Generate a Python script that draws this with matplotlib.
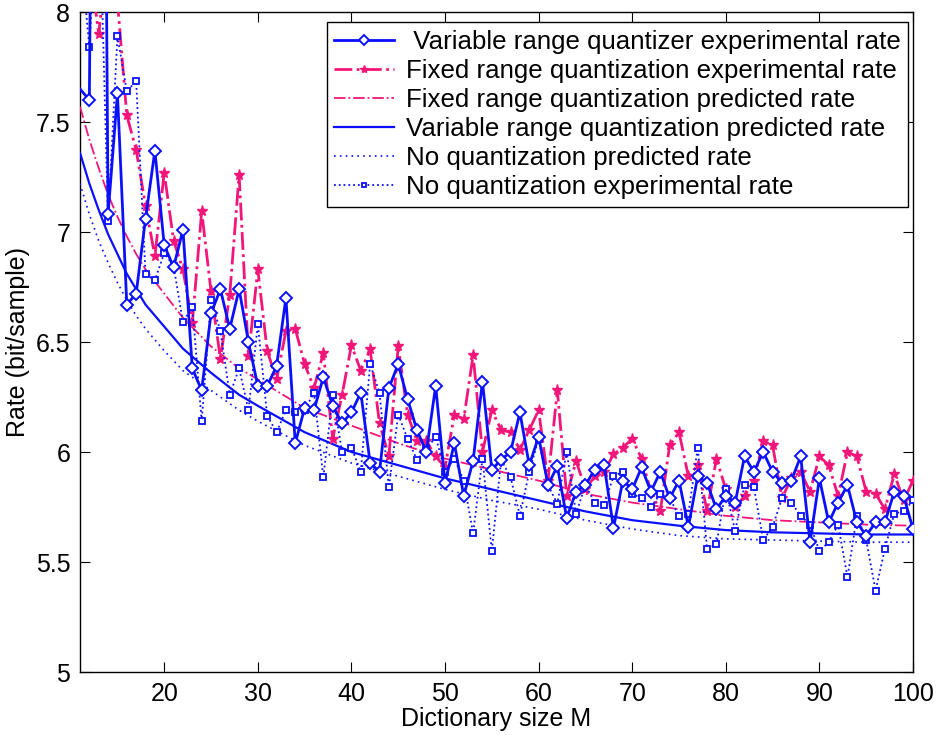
import matplotlib
matplotlib.use("Agg")
import matplotlib.pyplot as plt

# ---------------- data ----------------
M = list(range(11, 101))

var_exp = [7.65, 7.60, 13.0, 7.08, 7.63, 6.67, 6.72, 7.06, 7.37, 6.94,
           6.84, 7.01, 6.38, 6.28, 6.63, 6.74, 6.56, 6.74, 6.50, 6.30,
           6.30, 6.39, 6.70, 6.04, 6.20, 6.19, 6.34, 6.21, 6.13, 6.18,
           6.27, 5.95, 5.91, 6.29, 6.40, 6.24, 6.10, 6.00, 6.30, 5.86,
           6.04, 5.80, 5.96, 6.32, 5.92, 5.965, 6.00, 6.18, 5.94, 6.07,
           5.85, 5.935, 5.70, 5.82, 5.85, 5.92, 5.94, 5.655, 5.87, 5.83,
           5.93, 5.82, 5.91, 5.79, 5.87, 5.66, 5.89, 5.86, 5.74, 5.80,
           5.77, 5.98, 5.91, 6.00, 5.91, 5.86, 5.87, 5.98, 5.59, 5.88,
           5.68, 5.77, 5.85, 5.68, 5.62, 5.68, 5.68, 5.82, 5.80, 5.65]

fix_exp = [8.40, 8.23, 7.90, 8.30, 8.05, 7.53, 7.374, 7.12, 6.89, 7.27,
           6.96, 6.83, 6.586, 7.094, 6.73, 6.424, 6.715, 7.26, 6.435, 6.83,
           6.46, 6.33, 6.55, 6.56, 6.40, 6.29, 6.45, 6.06, 6.26, 6.485,
           6.37, 6.466, 6.13, 5.98, 6.48, 6.17, 6.05, 6.05, 5.98, 5.93,
           6.17, 6.15, 6.44, 6.00, 6.19, 6.10, 6.09, 6.01, 6.10, 6.19,
           5.87, 6.28, 5.80, 5.96, 5.83, 5.89, 5.91, 5.99, 6.02, 6.06,
           5.97, 5.82, 5.73, 6.03, 6.09, 5.89, 5.94, 5.73, 5.97, 5.83,
           5.75, 5.80, 5.87, 6.05, 6.03, 5.79, 5.88, 5.91, 5.82, 5.98,
           5.94, 5.80, 6.00, 5.98, 5.82, 5.81, 5.74, 5.90, 5.78, 5.87]

noq_exp = [8.30, 7.84, 8.63, 7.05, 7.89, 7.64, 7.685, 6.81, 6.78, 6.905,
           6.845, 6.59, 6.66, 6.14, 6.69, 6.55, 6.26, 6.38, 6.19, 6.58,
           6.165, 6.09, 6.19, 6.18, 6.19, 6.27, 5.885, 6.26, 6.00, 6.02,
           5.91, 6.40, 6.27, 5.84, 6.17, 6.06, 5.965, 6.01, 6.07, 5.91,
           5.97, 5.87, 5.63, 5.97, 5.55, 5.965, 5.885, 5.71, 5.91, 6.06,
           5.85, 5.765, 6.00, 5.72, 5.85, 5.77, 5.76, 5.89, 5.91, 5.81,
           5.79, 5.75, 5.81, 5.79, 5.71, 5.72, 6.02, 5.56, 5.58, 5.83,
           5.64, 5.85, 5.84, 5.60, 5.66, 5.79, 5.77, 5.71, 5.67, 5.55,
           5.59, 5.67, 5.43, 5.71, 5.60, 5.37, 5.56, 5.72, 5.73, 5.78]

pred_M = [11, 12, 13, 14, 15, 16, 17, 18, 20, 22, 25, 28, 30, 35, 40, 45,
          50, 55, 60, 65, 70, 75, 80, 85, 90, 95, 100]
fix_pred = [7.57, 7.42, 7.29, 7.17, 7.07, 6.98, 6.90, 6.83, 6.72, 6.61, 6.48,
            6.38, 6.33, 6.20, 6.12, 6.04, 5.97, 5.92, 5.87, 5.81, 5.77, 5.74,
            5.71, 5.69, 5.68, 5.67, 5.665]
var_pred = [7.36, 7.22, 7.10, 6.99, 6.90, 6.81, 6.74, 6.67, 6.57, 6.47, 6.36,
            6.26, 6.21, 6.09, 6.00, 5.94, 5.88, 5.83, 5.78, 5.73, 5.69, 5.665,
            5.645, 5.635, 5.63, 5.625, 5.625]
noq_pred = [7.22, 7.08, 6.96, 6.86, 6.77, 6.69, 6.62, 6.56, 6.46, 6.37, 6.28,
            6.19, 6.14, 6.03, 5.95, 5.89, 5.83, 5.78, 5.74, 5.69, 5.65, 5.62,
            5.605, 5.60, 5.595, 5.59, 5.59]

labels = [" Variable range quantizer experimental rate",
          "Fixed range quantization experimental rate",
          "Fixed range quantization predicted rate",
          "Variable range quantization predicted rate",
          "No quantization predicted rate",
          "No quantization experimental rate"]

x_ticks = [20, 30, 40, 50, 60, 70, 80, 90, 100]
y_ticks = [5, 5.5, 6, 6.5, 7, 7.5, 8]
y_ticklabels = ["5", "5.5", "6", "6.5", "7", "7.5", "8"]

# ---------------- style ----------------
plt.rcParams['font.family'] = ['Liberation Sans', 'DejaVu Sans']
BLUE = '#0a10ff'
PINK = '#f2167a'
FS = 18

fig = plt.figure(figsize=(9.37, 7.35), dpi=100)
ax = fig.add_axes([80/937, 1 - 672/735, 833/937, 660/735])

l1, = ax.plot(M, var_exp, '-', color=BLUE, lw=2.0, marker='D', ms=6.5,
              mfc='white', mec=BLUE, mew=1.4, zorder=5,
              markevery=list(range(1, len(M))))
l2, = ax.plot(M, fix_exp, '-.', color=PINK, lw=2.0, marker='*', ms=8,
              mfc=PINK, mec=PINK, zorder=4)
l3, = ax.plot(pred_M, fix_pred, '-.', color=PINK, lw=1.3, zorder=3)
l4, = ax.plot(pred_M, var_pred, '-', color=BLUE, lw=1.6, zorder=3)
l5, = ax.plot(pred_M, noq_pred, linestyle=(0, (1, 2.5)), color=BLUE, lw=1.2,
              zorder=3)
l6, = ax.plot(M, noq_exp, ':', color=BLUE, lw=1.3, marker='s', ms=4.5,
              mfc='white', mec=BLUE, mew=1.3, zorder=4)

ax.set_xlim(11, 100)
ax.set_ylim(5, 8)
ax.set_xticks(x_ticks)
ax.set_yticks(y_ticks)
ax.set_yticklabels(y_ticklabels)
ax.tick_params(direction='in', length=7, width=0.8, top=True, right=True,
               labelsize=FS, colors='black')
ax.tick_params(axis='y', pad=7)
ax.tick_params(axis='x', pad=7)
for s in ax.spines.values():
    s.set_linewidth(1.0)
    s.set_color('black')

ax.set_xlabel("Dictionary size M", fontsize=FS, labelpad=1)
ax.set_ylabel("Rate (bit/sample)", fontsize=FS, labelpad=4)

leg = ax.legend([l1, l2, l3, l4, l5, l6], labels, loc='upper right',
                bbox_to_anchor=(0.994, 0.985), borderaxespad=0,
                fontsize=18.6, handlelength=2.3, handletextpad=0.45,
                labelspacing=0.2, borderpad=0.3, fancybox=False,
                edgecolor='black', framealpha=1, markerscale=0.75,
                numpoints=1)
leg.get_frame().set_linewidth(1.0)

fig.savefig("out.png", dpi=100)
